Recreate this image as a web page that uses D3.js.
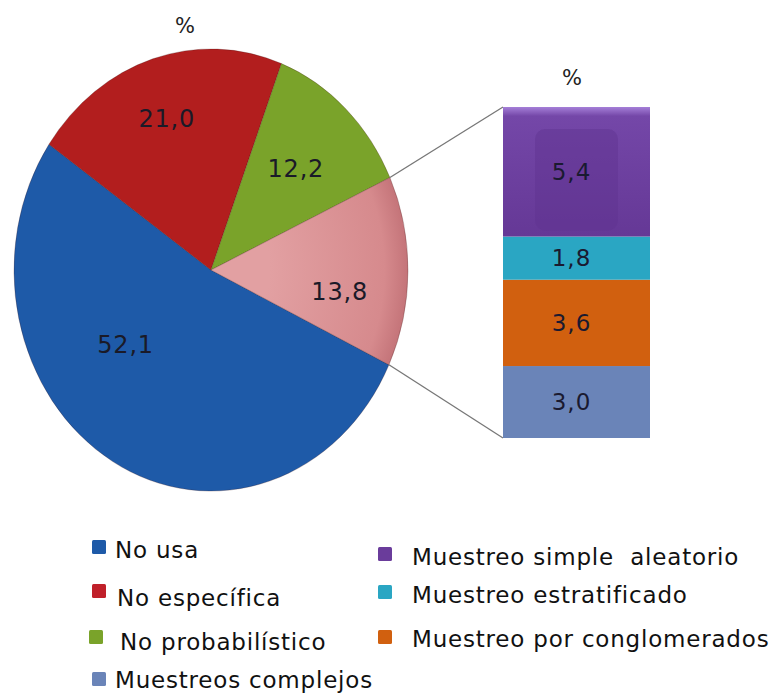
<!DOCTYPE html>
<html>
<head>
<meta charset="utf-8">
<script src="https://cdn.jsdelivr.net/npm/d3@7"></script>
<style>
  body { margin: 0; background: #fff; }
  svg { display: block; font-family: "DejaVu Sans", Verdana, sans-serif; }
  text { white-space: pre; }
</style>
</head>
<body>
<svg id="chart" width="783" height="696"></svg>
<script>
// ---- data ----
const pieCategories = ["No usa", "No específica", "No probabilístico", "Probabilístico"];
const pieValues = [52.1, 21.0, 12.2, 13.8];

// breakdown of the probabilistic slice, bottom to top
const barCategories = ["Muestreos complejos", "Muestreo por conglomerados", "Muestreo estratificado", "Muestreo simple aleatorio"];
const barValues = [3.0, 3.6, 1.8, 5.4];

const legendCol1 = ["No usa", "No específica", "No probabilístico", "Muestreos complejos"];
const legendCol2 = ["Muestreo simple aleatorio", "Muestreo estratificado", "Muestreo por conglomerados"];
const legendText = { "Muestreo simple aleatorio": "Muestreo simple  aleatorio" };
const unitLabel = "%";

// ---- styling ----
const colors = {
  "No usa": "#1e5aa8",
  "No específica": "#b21e1e",
  "No probabilístico": "#7aa32a",
  "Probabilístico": "url(#pinkGrad)",
  "Muestreos complejos": "#6a84b8",
  "Muestreo por conglomerados": "#d1600f",
  "Muestreo estratificado": "#2aa6c3",
  "Muestreo simple aleatorio": "url(#purpleGrad)"
};
const swatch = {
  "No usa": "#1e5aa8", "No específica": "#c0202a", "No probabilístico": "#7aa32a",
  "Muestreos complejos": "#6a84b8", "Muestreo por conglomerados": "#d1600f",
  "Muestreo estratificado": "#2aa6c3", "Muestreo simple aleatorio": "#6a3c9b"
};

const locale = d3.formatLocale({ decimal: ",", thousands: ".", grouping: [3], currency: ["", ""] });
const fmt = locale.format(".1f");

const svg = d3.select("#chart");
const defs = svg.append("defs");

const pinkGrad = defs.append("radialGradient").attr("id", "pinkGrad")
  .attr("gradientUnits", "userSpaceOnUse").attr("cx", 0).attr("cy", 0).attr("r", 197);
pinkGrad.append("stop").attr("offset", "0.3").attr("stop-color", "#e2a0a2");
pinkGrad.append("stop").attr("offset", "0.88").attr("stop-color", "#d68a8d");
pinkGrad.append("stop").attr("offset", "1").attr("stop-color", "#c47479");

const purpleGrad = defs.append("linearGradient").attr("id", "purpleGrad")
  .attr("x1", 0).attr("y1", 0).attr("x2", 0).attr("y2", 1);
purpleGrad.append("stop").attr("offset", "0").attr("stop-color", "#a57fd8");
purpleGrad.append("stop").attr("offset", "0.07").attr("stop-color", "#7447a8");
purpleGrad.append("stop").attr("offset", "1").attr("stop-color", "#653896");

// ---- pie (slightly stretched vertically) ----
const cx = 211, cy = 270, R = 197, sy = 1.122;
const a0 = 115.4 * Math.PI / 180;
const pie = d3.pie().sort(null).startAngle(a0).endAngle(a0 + 2 * Math.PI);
const arcs = pie(pieValues).map((a, i) => Object.assign(a, { name: pieCategories[i] }));
const arc = d3.arc().innerRadius(0).outerRadius(R);

const pieG = svg.append("g").attr("transform", `translate(${cx},${cy}) scale(1,${sy})`);
pieG.selectAll("path").data(arcs).join("path")
  .attr("d", arc)
  .attr("fill", d => colors[d.name])
  .attr("stroke", "rgba(60,20,20,0.35)")
  .attr("stroke-width", 0.7);

// label placement per slice: radius fraction and angular nudge (degrees)
const labelLayout = [
  { r: 0.55, shift: 22 },
  { r: 0.72, shift: -1 },
  { r: 0.63, shift: 0 },
  { r: 0.66, shift: 8 }
];
const polar = (ang, r) => [cx + r * Math.sin(ang), cy - r * Math.cos(ang) * sy];

svg.append("g").selectAll("text").data(arcs).join("text")
  .attr("transform", (d, i) => {
    const mid = (d.startAngle + d.endAngle) / 2 + labelLayout[i].shift * Math.PI / 180;
    const [x, y] = polar(mid, R * labelLayout[i].r);
    return `translate(${x},${y})`;
  })
  .attr("text-anchor", "middle").attr("dy", "0.36em")
  .attr("font-size", 24).attr("letter-spacing", 0.8).attr("fill", "#1a1a28")
  .text(d => fmt(d.value));

svg.append("text").attr("x", 185).attr("y", 25).attr("dy", "0.36em")
  .attr("text-anchor", "middle").attr("font-size", 21).attr("fill", "#222")
  .text(unitLabel);

// ---- stacked bar ----
const bx0 = 503, bx1 = 650;
const total = d3.sum(barValues);
const yScale = d3.scaleLinear().domain([0, total]).range([438, 107]);
const cum = d3.cumsum(barValues);
const segs = barValues.map((v, i) => ({ name: barCategories[i], value: v, y0: cum[i] - v, y1: cum[i] }));

// connector lines from the slice edges to the bar
const slice = arcs[3];
const pTop = polar(slice.startAngle, R);
const pBot = polar(slice.endAngle, R);
svg.append("g").attr("stroke", "#777").attr("stroke-width", 1.3).selectAll("line")
  .data([[pTop, [bx0, yScale(total)]], [pBot, [bx0, yScale(0)]]]).join("line")
  .attr("x1", d => d[0][0]).attr("y1", d => d[0][1])
  .attr("x2", d => d[1][0]).attr("y2", d => d[1][1]);

const barG = svg.append("g");
barG.selectAll("rect").data(segs).join("rect")
  .attr("x", bx0).attr("width", bx1 - bx0)
  .attr("y", d => yScale(d.y1)).attr("height", d => yScale(d.y0) - yScale(d.y1))
  .attr("fill", d => colors[d.name]);

// soft inner panel on the top segment
const topSeg = segs[3];
barG.append("rect")
  .attr("x", bx0 + 32).attr("width", bx1 - bx0 - 64)
  .attr("y", yScale(topSeg.y1) + 22).attr("height", yScale(topSeg.y0) - yScale(topSeg.y1) - 28)
  .attr("rx", 10).attr("fill", "#5f3490").attr("opacity", 0.45);

barG.selectAll("text").data(segs).join("text")
  .attr("x", (bx0 + bx1) / 2 - 5)
  .attr("y", d => (yScale(d.y0) + yScale(d.y1)) / 2).attr("dy", "0.36em")
  .attr("text-anchor", "middle").attr("font-size", 23).attr("letter-spacing", 1).attr("fill", "#1a1a30")
  .text(d => fmt(d.value));

svg.append("text").attr("x", 572).attr("y", 77).attr("dy", "0.36em")
  .attr("text-anchor", "middle").attr("font-size", 21).attr("fill", "#222")
  .text(unitLabel);

// ---- legend ----
const leg1 = [
  { sx: 92, sy: 540, tx: 115, ty: 558 },
  { sx: 92, sy: 584, tx: 117, ty: 606 },
  { sx: 89, sy: 630, tx: 120, ty: 650 },
  { sx: 92, sy: 672, tx: 115, ty: 688 }
];
const leg2 = [
  { sx: 378, sy: 547, tx: 412, ty: 565 },
  { sx: 378, sy: 585, tx: 412, ty: 603 },
  { sx: 378, sy: 630, tx: 412, ty: 647 }
];
function drawLegend(names, pos) {
  const g = svg.append("g").selectAll("g").data(names).join("g");
  g.append("rect")
    .attr("x", (d, i) => pos[i].sx).attr("y", (d, i) => pos[i].sy)
    .attr("width", 14).attr("height", 14).attr("rx", 1.5)
    .attr("fill", d => swatch[d]);
  g.append("text")
    .attr("x", (d, i) => pos[i].tx).attr("y", (d, i) => pos[i].ty)
    .attr("font-size", 23).attr("letter-spacing", 0.8).attr("fill", "#111")
    .text(d => legendText[d] || d);
}
drawLegend(legendCol1, leg1);
drawLegend(legendCol2, leg2);
</script>
</body>
</html>
